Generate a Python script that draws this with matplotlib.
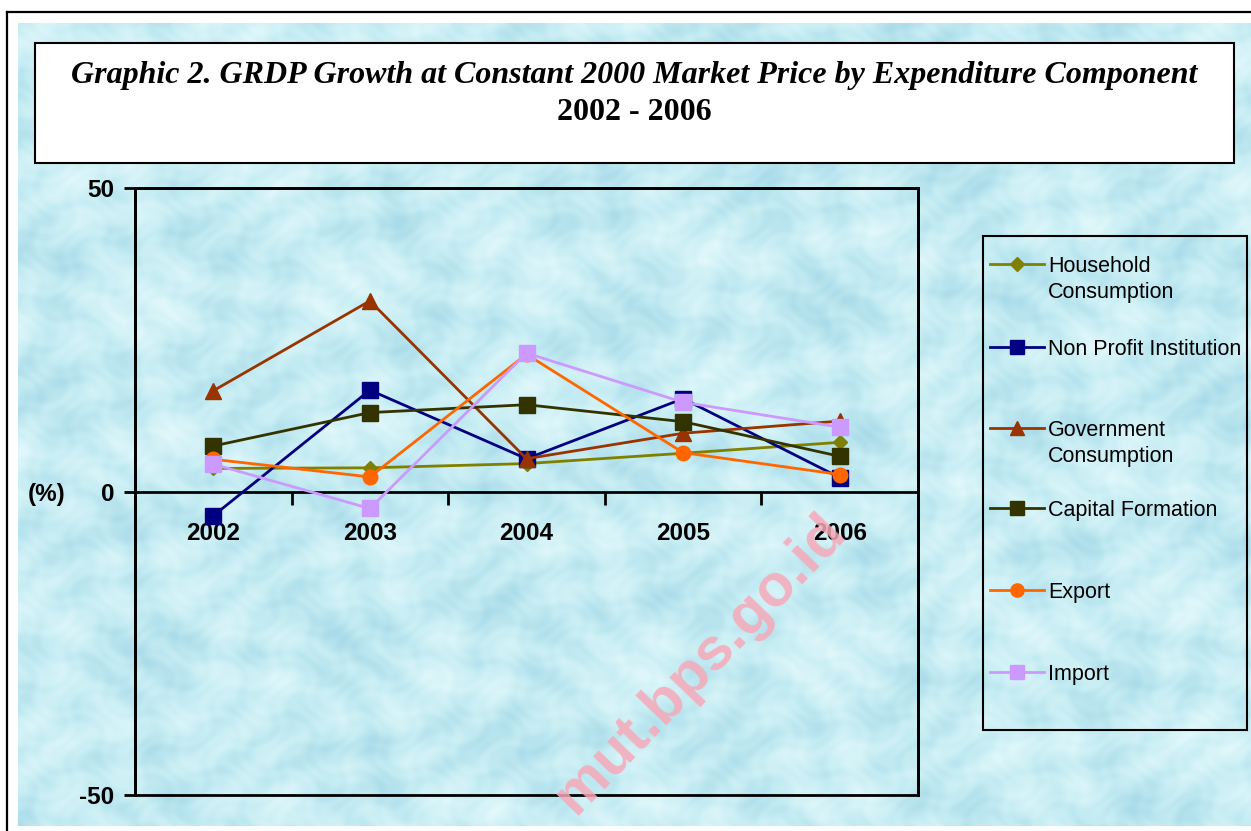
import numpy as np
import matplotlib
matplotlib.use('Agg')
import matplotlib.pyplot as plt
from matplotlib.patches import Rectangle
from matplotlib.lines import Line2D

# ---------------- data ----------------
years = ['2002', '2003', '2004', '2005', '2006']
household = [3.8, 3.9, 4.6, 6.3, 8.1]
non_profit = [-4.0, 16.7, 5.4, 15.3, 2.3]
government = [16.6, 31.4, 5.4, 9.6, 11.6]
capital = [7.5, 13.0, 14.3, 11.5, 5.8]
export = [5.3, 2.4, 22.6, 6.4, 2.8]
imports = [4.5, -2.8, 22.8, 14.7, 10.6]
series_labels = ['Household\nConsumption', 'Non Profit Institution',
                 'Government\nConsumption', 'Capital Formation', 'Export', 'Import']
y_ticks = [-50, 0, 50]
title_line1 = 'Graphic 2. GRDP Growth at Constant 2000 Market Price by Expenditure Component'
title_line2 = '2002 - 2006'

# ---------------- styles ----------------
series = [household, non_profit, government, capital, export, imports]
colors = ['#808000', '#000080', '#993300', '#333300', '#FF6600', '#CC99FF']
markers = ['D', 's', '^', 's', 'o', 's']
msizes = [7.5, 11, 11, 11, 10.5, 12]
SANS = ['Liberation Sans', 'DejaVu Sans']
SERIF = ['Liberation Serif', 'DejaVu Serif']

W, H = 1251, 831
fig = plt.figure(figsize=(W / 100, H / 100), dpi=100)
fig.patch.set_facecolor('white')

# background layer in pixel coordinates
bg = fig.add_axes([0, 0, 1, 1])
bg.set_xlim(0, W)
bg.set_ylim(H, 0)
bg.axis('off')

# decorative water-drop-like texture (deterministic)
th, tw = 803, 1233
yy, xx = np.mgrid[0:th, 0:tw].astype(float)
v1 = np.sin(xx / 17.0 + 2.0 * np.sin(yy / 29.0)) * np.sin(yy / 13.0 + 2.0 * np.sin(xx / 37.0))
v2 = np.sin((xx + yy) / 53.0) * np.cos((xx - 2 * yy) / 71.0)
v3 = np.sin(xx / 7.0 + np.cos(yy / 9.0) * 3) * np.sin(yy / 6.0 + np.cos(xx / 11.0) * 3)
t = 0.5 * v1 + 0.3 * v2 + 0.2 * v3
c0 = np.array([0.78, 0.93, 0.955])
cl = np.array([0.89, 0.975, 0.985])
cd = np.array([0.60, 0.82, 0.89])
tp = np.clip(t, 0, 1)[..., None]
tn = np.clip(-t, 0, 1)[..., None]
img = c0 + tp * (cl - c0) + tn * (cd - c0) * 0.7
bg.imshow(img, extent=(18, W, 826, 23), aspect='auto', zorder=0, interpolation='bilinear')

# outer frame lines (top and left)
bg.plot([7, 7], [H, 12], color='black', lw=1.6, zorder=2, solid_capstyle='projecting')
bg.plot([7, W], [12, 12], color='black', lw=1.6, zorder=2, solid_capstyle='projecting')

# title box
bg.add_patch(Rectangle((35, 43), 1199, 120, facecolor='white', edgecolor='black', lw=1.5, zorder=3))
bg.text(634, 76, title_line1, ha='center', va='center', fontsize=23, fontweight='bold',
        fontstyle='italic', family=SERIF, zorder=4)
bg.text(634, 112, title_line2, ha='center', va='center', fontsize=23, fontweight='bold',
        family=SERIF, zorder=4)

# y-axis unit label
bg.text(47, 494, '(%)', ha='center', va='center', fontsize=17.5, fontweight='bold', family=SANS, zorder=4)

# ---------------- main plot ----------------
ax = fig.add_axes([135 / W, 1 - 795 / H, 783 / W, 607 / H])
ax.set_facecolor('none')
x = np.arange(1, len(years) + 1)
for vals, c, m, ms in zip(series, colors, markers, msizes):
    ax.plot(x, vals, color=c, lw=2, marker=m, markersize=ms, markerfacecolor=c,
            markeredgecolor=c, clip_on=False, zorder=3)

ax.set_xlim(0.5, len(years) + 0.5)
ax.set_ylim(-50, 50)
for s in ax.spines.values():
    s.set_linewidth(2)
    s.set_color('black')
ax.spines['bottom'].set_position(('data', 0))
ax.add_patch(Rectangle((0, 0), 1, 1, transform=ax.transAxes, fill=False, lw=2,
                       edgecolor='black', clip_on=False, zorder=2))

ax.set_yticks(y_ticks)
ax.set_yticklabels([str(v) for v in y_ticks], fontsize=17.5, fontweight='bold', family=SANS)
ax.tick_params(axis='y', direction='out', length=8, width=2, pad=7)

ax.set_xticks(x)
ax.set_xticklabels(years, fontsize=17.5, fontweight='bold', family=SANS)
ax.set_xticks(np.arange(1.5, len(years), 1.0), minor=True)
ax.tick_params(axis='x', which='major', length=0, pad=22)
ax.tick_params(axis='x', which='minor', direction='out', length=9, width=2)

# ---------------- legend ----------------
bg.add_patch(Rectangle((983, 236), 264, 494, fill=False, edgecolor='black', lw=1.5, zorder=3))
leg_y = [264, 347, 428, 508, 590, 672]
leg_ms = [7, 9.5, 9.5, 9.5, 9.5, 10]
for yv, lab, c, m, ms in zip(leg_y, series_labels, colors, markers, leg_ms):
    bg.add_line(Line2D([990, 1044], [yv, yv], color=c, lw=2, zorder=4))
    bg.add_line(Line2D([1017], [yv], marker=m, markersize=ms, color=c, markerfacecolor=c,
                       markeredgecolor=c, zorder=5))
    bg.text(1048, yv - 8, lab, ha='left', va='top', fontsize=15.5, family=SANS,
            linespacing=1.32, zorder=5)

# watermark
fig.text(700 / W, 1 - 664 / H, 'mut.bps.go.id', rotation=46, ha='center', va='center',
         fontsize=43, fontweight='bold', family=SANS, color='#f7a8b8', alpha=0.85, zorder=10)

fig.savefig('out.png', dpi=100, facecolor='white')
